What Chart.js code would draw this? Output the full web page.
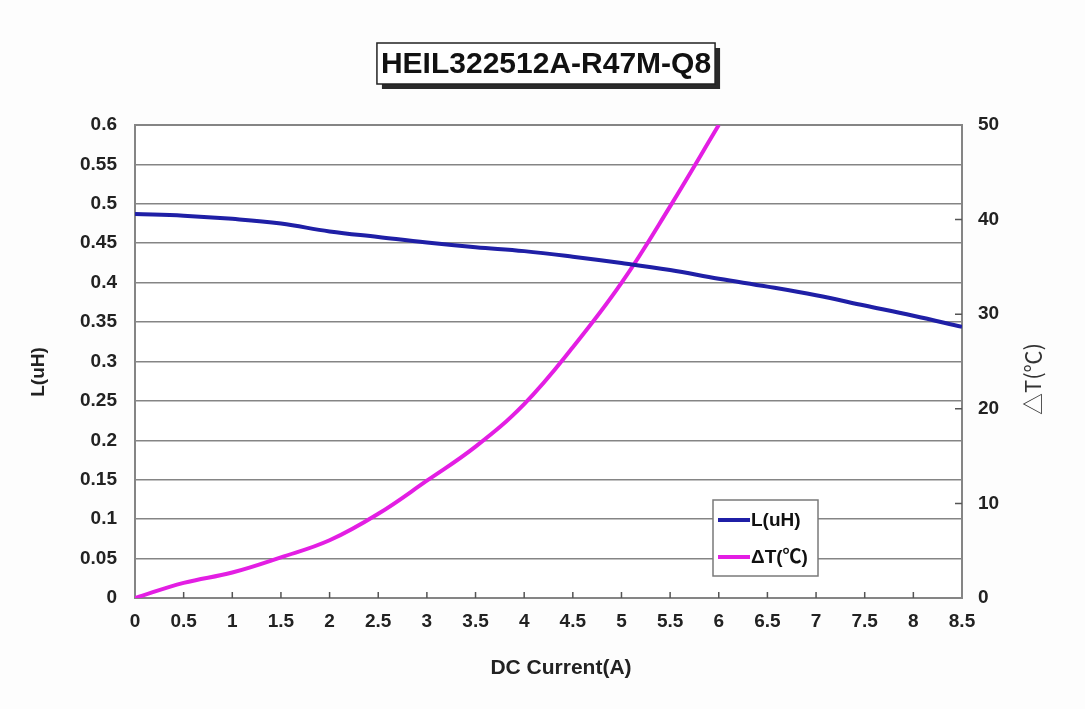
<!DOCTYPE html>
<html><head><meta charset="utf-8">
<script src="https://cdn.jsdelivr.net/npm/chart.js@4/dist/chart.umd.min.js"></script>
<style>html,body{margin:0;padding:0;background:#fdfdfd;}#wrap{width:1085px;height:709px;position:relative;}</style>
</head><body><div id="wrap"><canvas id="c"></canvas></div>
<script>
const chartTitle = 'HEIL322512A-R47M-Q8';
const xAxisTitle = 'DC Current(A)';
const leftAxisTitle = 'L(uH)';
const rightAxisTitle = '△T(℃)';
const seriesNames = ['L(uH)', 'ΔT(℃)'];

const currentA = [0,0.5,1,1.5,2,2.5,3,3.5,4,4.5,5,5.5,6,6.5,7,7.5,8,8.5];
const inductance = [0.487,0.485,0.481,0.475,0.465,0.458,0.451,0.445,0.440,0.433,0.425,0.416,0.405,0.395,0.384,0.371,0.358,0.344];

const tempCurrentA = [0,0.5,1,1.5,2,2.5,3,3.5,4,4.5,5,5.5,6];
const tempRise = [0,1.6,2.7,4.3,6.1,8.9,12.4,16.0,20.5,26.5,33.3,41.4,50];

const xTickValues = [0,0.5,1,1.5,2,2.5,3,3.5,4,4.5,5,5.5,6,6.5,7,7.5,8,8.5];
const xTickLabels = ['0','0.5','1','1.5','2','2.5','3','3.5','4','4.5','5','5.5','6','6.5','7','7.5','8','8.5'];
const leftTickValues = [0,0.05,0.1,0.15,0.2,0.25,0.3,0.35,0.4,0.45,0.5,0.55,0.6];
const leftTickLabels = ['0','0.05','0.1','0.15','0.2','0.25','0.3','0.35','0.4','0.45','0.5','0.55','0.6'];
const rightTickValues = [0,10,20,30,40,50];
const rightTickLabels = ['0','10','20','30','40','50'];

const BLUE = '#1f1fa6';
const MAGENTA = '#e31ee3';
const GRID = '#858585';
const FONT = "'Liberation Sans', Arial, 'Noto Sans CJK SC', sans-serif";
const tickFont = {family: FONT, size: 19, weight: 'bold'};

function setTicks(values){
  return function(scale){ scale.ticks = values.map(v => ({value: v})); };
}

const deco = {
  id: 'deco',
  beforeDraw(chart){
    const {ctx, chartArea: a} = chart;
    ctx.save();
    ctx.fillStyle = '#ffffff';
    ctx.fillRect(a.left, a.top, a.right - a.left, a.bottom - a.top);
    ctx.restore();
  },
  beforeDatasetsDraw(chart){
    const {ctx, chartArea: a, scales} = chart;
    ctx.save();
    ctx.strokeStyle = GRID;
    ctx.lineWidth = 2;
    ctx.strokeRect(a.left, a.top, a.right - a.left, a.bottom - a.top);
    ctx.lineWidth = 1.5;
    ctx.strokeStyle = '#555';
    ctx.beginPath();
    scales.x.ticks.forEach(t => {
      const px = scales.x.getPixelForValue(t.value);
      if (px > a.left + 2 && px < a.right - 2) { ctx.moveTo(px, a.bottom); ctx.lineTo(px, a.bottom - 6); }
    });
    scales.y1.ticks.forEach(t => {
      const py = scales.y1.getPixelForValue(t.value);
      if (py > a.top + 2 && py < a.bottom - 2) { ctx.moveTo(a.right, py); ctx.lineTo(a.right - 7, py); }
    });
    ctx.stroke();
    ctx.restore();
  },
  afterDraw(chart){
    const {ctx} = chart;
    ctx.save();
    // title box
    ctx.font = 'bold 30px ' + FONT;
    const tw = ctx.measureText(chartTitle).width;
    const cx = 546, bw = tw + 8, bh = 41, bx = cx - bw / 2, by = 43;
    ctx.fillStyle = '#2a2a2a';
    ctx.fillRect(bx + 5, by + 5, bw, bh);
    ctx.fillStyle = '#ffffff';
    ctx.fillRect(bx, by, bw, bh);
    ctx.strokeStyle = '#222';
    ctx.lineWidth = 1.5;
    ctx.strokeRect(bx, by, bw, bh);
    ctx.fillStyle = '#111';
    ctx.textAlign = 'center';
    ctx.textBaseline = 'middle';
    ctx.fillText(chartTitle, cx, by + bh / 2 + 1);

    // x axis title
    ctx.font = 'bold 21px ' + FONT;
    ctx.fillStyle = '#222';
    ctx.fillText(xAxisTitle, 561, 668);

    // left axis title
    ctx.save();
    ctx.translate(39, 372);
    ctx.rotate(-Math.PI / 2);
    ctx.font = 'bold 19px ' + FONT;
    ctx.fillText(leftAxisTitle, 0, 0);
    ctx.restore();

    // right axis title
    ctx.save();
    ctx.translate(1033, 379);
    ctx.rotate(-Math.PI / 2);
    ctx.font = "22px 'Noto Sans CJK SC', 'DejaVu Sans', sans-serif";
    ctx.fillStyle = '#333';
    ctx.fillText(rightAxisTitle, 0, 0);
    ctx.restore();

    // legend
    const lx = 713, ly = 500, lw = 105, lh = 76;
    ctx.fillStyle = '#ffffff';
    ctx.fillRect(lx, ly, lw, lh);
    ctx.strokeStyle = '#7a7a7a';
    ctx.lineWidth = 1.5;
    ctx.strokeRect(lx, ly, lw, lh);
    const rows = [{c: BLUE, t: seriesNames[0], y: 520}, {c: MAGENTA, t: seriesNames[1], y: 557}];
    ctx.textAlign = 'left';
    ctx.font = 'bold 19px ' + FONT;
    rows.forEach(r => {
      ctx.strokeStyle = r.c;
      ctx.lineWidth = 4;
      ctx.beginPath(); ctx.moveTo(718, r.y); ctx.lineTo(750, r.y); ctx.stroke();
      ctx.fillStyle = '#111';
      ctx.fillText(r.t, 751, r.y + 1);
    });
    ctx.restore();
  }
};

new Chart(document.getElementById('c'), {
  type: 'line',
  data: {
    datasets: [
      {label: seriesNames[0], data: currentA.map((x, i) => ({x, y: inductance[i]})), yAxisID: 'y',
       borderColor: BLUE, borderWidth: 4, pointRadius: 0, tension: 0.4, fill: false},
      {label: seriesNames[1], data: tempCurrentA.map((x, i) => ({x, y: tempRise[i]})), yAxisID: 'y1',
       borderColor: MAGENTA, borderWidth: 4, pointRadius: 0, tension: 0.4, fill: false}
    ]
  },
  options: {
    responsive: true,
    maintainAspectRatio: false,
    animation: false,
    layout: {padding: {top: 125, left: 0, right: 0, bottom: 0}},
    plugins: {legend: {display: false}, title: {display: false}, tooltip: {enabled: false}},
    scales: {
      x: {
        type: 'linear', min: 0, max: 8.5,
        afterBuildTicks: setTicks(xTickValues),
        afterFit(s){ s.height = 111; },
        grid: {display: false, drawTicks: false},
        border: {display: false},
        ticks: {font: tickFont, color: '#222', padding: 12, maxRotation: 0, autoSkip: false,
                callback: (v, i) => xTickLabels[i]}
      },
      y: {
        position: 'left', min: 0, max: 0.6,
        afterBuildTicks: setTicks(leftTickValues),
        afterFit(s){ s.width = 135; },
        grid: {color: GRID, lineWidth: 1.6, drawTicks: false},
        border: {display: false},
        ticks: {font: tickFont, color: '#222', padding: 18, autoSkip: false,
                callback: (v, i) => leftTickLabels[i]}
      },
      y1: {
        position: 'right', min: 0, max: 50,
        afterBuildTicks: setTicks(rightTickValues),
        afterFit(s){ s.width = 123; },
        grid: {drawOnChartArea: false, drawTicks: false},
        border: {display: false},
        ticks: {font: tickFont, color: '#222', padding: 16, autoSkip: false,
                callback: (v, i) => rightTickLabels[i]}
      }
    }
  },
  plugins: [deco]
});
</script>
</body></html>
